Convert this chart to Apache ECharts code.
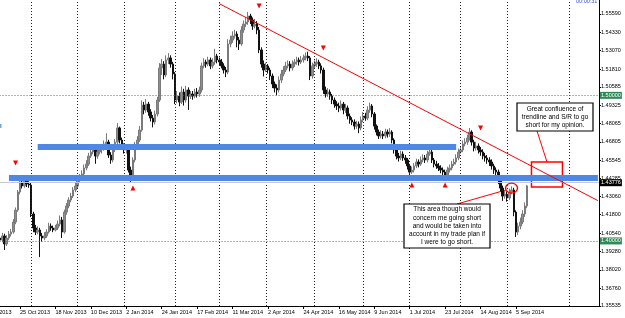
<!DOCTYPE html>
<html>
<head>
<meta charset="utf-8">
<script src="https://cdn.jsdelivr.net/npm/echarts@6.0.0/dist/echarts.min.js"></script>
<style>
html, body { margin: 0; padding: 0; background: #fff; }
#chart { width: 625px; height: 318px; }
</style>
</head>
<body>
<div id="chart"></div>
<script>
// daily bars, first one is bar -9 (bar 0 = 25 Oct 2013)
const barOpen = [
  1.4020, 1.4006, 1.4034, 1.3979, 1.4020, 1.4047, 1.4061, 1.4130, 1.4212,
  1.4336, 1.4405, 1.4377, 1.4412, 1.4391, 1.4384, 1.4185, 1.4089, 1.4061, 1.4075,
  1.4034, 1.4020, 1.4034, 1.4061, 1.4102, 1.4089, 1.4075, 1.4089, 1.4116, 1.4144,
  1.4061, 1.4198, 1.4240, 1.4281, 1.4308, 1.4350, 1.4377, 1.4418, 1.4439, 1.4460,
  1.4501, 1.4528, 1.4583, 1.4611, 1.4625, 1.4583, 1.4611, 1.4625, 1.4638, 1.4666,
  1.4679, 1.4590, 1.4556, 1.4625, 1.4679, 1.4776, 1.4693, 1.4652, 1.4625, 1.4638,
  1.4487, 1.4432, 1.4556, 1.4659, 1.4693, 1.4762, 1.4934, 1.4899, 1.4940, 1.4886,
  1.4844, 1.4817, 1.4872, 1.4968, 1.5188, 1.5215, 1.5140, 1.5243, 1.5257, 1.5215,
  1.5147, 1.4968, 1.4995, 1.4954, 1.5023, 1.4968, 1.5037, 1.4995, 1.5009, 1.4995,
  1.5023, 1.5009, 1.5037, 1.5202, 1.5229, 1.5215, 1.5243, 1.5202, 1.5229, 1.5270,
  1.5243, 1.5229, 1.5202, 1.5174, 1.5160, 1.5353, 1.5380, 1.5408, 1.5421, 1.5380,
  1.5353, 1.5449, 1.5490, 1.5504, 1.5545, 1.5518, 1.5476, 1.5490, 1.5449, 1.5312,
  1.5215, 1.5174, 1.5202, 1.5174, 1.5133, 1.5078, 1.5050, 1.5037, 1.5105, 1.5147,
  1.5174, 1.5202, 1.5215, 1.5188, 1.5215, 1.5229, 1.5243, 1.5229, 1.5243, 1.5257,
  1.5270, 1.5257, 1.5133, 1.5202, 1.5215, 1.5229, 1.5202, 1.5174, 1.5037, 1.5009,
  1.5023, 1.4995, 1.4968, 1.4940, 1.4927, 1.4913, 1.4940, 1.4899, 1.4913, 1.4858,
  1.4831, 1.4817, 1.4789, 1.4803, 1.4776, 1.4831, 1.4858, 1.4844, 1.4899, 1.4927,
  1.4872, 1.4789, 1.4748, 1.4721, 1.4734, 1.4721, 1.4748, 1.4734, 1.4748, 1.4693,
  1.4625, 1.4583, 1.4570, 1.4597, 1.4570, 1.4556, 1.4515, 1.4473, 1.4487, 1.4515,
  1.4542, 1.4528, 1.4556, 1.4570, 1.4556, 1.4597, 1.4611, 1.4556, 1.4528, 1.4515,
  1.4501, 1.4487, 1.4473, 1.4453, 1.4487, 1.4501, 1.4528, 1.4542, 1.4570, 1.4611,
  1.4625, 1.4666, 1.4679, 1.4707, 1.4748, 1.4679, 1.4638, 1.4652, 1.4625, 1.4611,
  1.4583, 1.4570, 1.4556, 1.4542, 1.4515, 1.4487, 1.4473, 1.4418, 1.4363, 1.4308,
  1.4322, 1.4295, 1.4336, 1.4350, 1.4198, 1.4061, 1.4102, 1.4130, 1.4185, 1.4240
]
const barHigh = [
  1.4045, 1.4055, 1.4050, 1.4040, 1.4068, 1.4082, 1.4150, 1.4230, 1.4350,
  1.4425, 1.4430, 1.4432, 1.4425, 1.4410, 1.4398, 1.4200, 1.4110, 1.4100, 1.4090,
  1.4055, 1.4060, 1.4080, 1.4125, 1.4120, 1.4105, 1.4110, 1.4140, 1.4175, 1.4165,
  1.4215, 1.4260, 1.4300, 1.4330, 1.4370, 1.4400, 1.4440, 1.4460, 1.4485, 1.4525,
  1.4555, 1.4605, 1.4630, 1.4645, 1.4640, 1.4630, 1.4650, 1.4660, 1.4690, 1.4740,
  1.4695, 1.4610, 1.4645, 1.4700, 1.4810, 1.4785, 1.4710, 1.4670, 1.4660, 1.4650,
  1.4510, 1.4575, 1.4680, 1.4720, 1.4790, 1.4965, 1.4955, 1.4975, 1.4955, 1.4905,
  1.4865, 1.4895, 1.4990, 1.5222, 1.5250, 1.5235, 1.5275, 1.5290, 1.5275, 1.5230,
  1.5160, 1.5030, 1.5020, 1.5060, 1.5045, 1.5065, 1.5055, 1.5030, 1.5030, 1.5045,
  1.5050, 1.5060, 1.5225, 1.5255, 1.5245, 1.5265, 1.5260, 1.5255, 1.5320, 1.5285,
  1.5260, 1.5250, 1.5220, 1.5195, 1.5385, 1.5410, 1.5440, 1.5450, 1.5440, 1.5400,
  1.5475, 1.5515, 1.5535, 1.5573, 1.5560, 1.5535, 1.5525, 1.5510, 1.5470, 1.5330,
  1.5240, 1.5225, 1.5215, 1.5190, 1.5150, 1.5095, 1.5075, 1.5130, 1.5175, 1.5200,
  1.5230, 1.5240, 1.5235, 1.5240, 1.5250, 1.5265, 1.5260, 1.5270, 1.5280, 1.5295,
  1.5300, 1.5270, 1.5225, 1.5240, 1.5255, 1.5245, 1.5220, 1.5190, 1.5060, 1.5050,
  1.5040, 1.5010, 1.4985, 1.4960, 1.4950, 1.4965, 1.4955, 1.4940, 1.4930, 1.4875,
  1.4850, 1.4835, 1.4825, 1.4820, 1.4855, 1.4885, 1.4880, 1.4925, 1.4950, 1.4940,
  1.4885, 1.4800, 1.4765, 1.4760, 1.4755, 1.4770, 1.4765, 1.4775, 1.4760, 1.4705,
  1.4640, 1.4605, 1.4620, 1.4615, 1.4590, 1.4570, 1.4530, 1.4510, 1.4535, 1.4565,
  1.4560, 1.4580, 1.4595, 1.4590, 1.4620, 1.4635, 1.4625, 1.4570, 1.4550, 1.4535,
  1.4520, 1.4505, 1.4490, 1.4510, 1.4525, 1.4550, 1.4565, 1.4595, 1.4635, 1.4650,
  1.4690, 1.4705, 1.4730, 1.4776, 1.4760, 1.4695, 1.4680, 1.4670, 1.4645, 1.4630,
  1.4605, 1.4590, 1.4575, 1.4560, 1.4530, 1.4505, 1.4490, 1.4435, 1.4380, 1.4345,
  1.4340, 1.4360, 1.4375, 1.4365, 1.4210, 1.4125, 1.4160, 1.4210, 1.4265, 1.4385
]
const barLow = [
  1.3985, 1.3990, 1.3938, 1.3965, 1.4005, 1.4030, 1.4050, 1.4115, 1.4200,
  1.4320, 1.4360, 1.4365, 1.4370, 1.4365, 1.4164, 1.4060, 1.4040, 1.4045, 1.3889,
  1.3995, 1.4005, 1.4020, 1.4050, 1.4070, 1.4060, 1.4065, 1.4075, 1.4100, 1.4020,
  1.4050, 1.4180, 1.4225, 1.4265, 1.4295, 1.4335, 1.4360, 1.4400, 1.4425, 1.4445,
  1.4485, 1.4515, 1.4570, 1.4595, 1.4530, 1.4565, 1.4595, 1.4600, 1.4620, 1.4650,
  1.4570, 1.4530, 1.4540, 1.4610, 1.4665, 1.4670, 1.4630, 1.4600, 1.4600, 1.4470,
  1.4405, 1.4420, 1.4540, 1.4640, 1.4680, 1.4750, 1.4870, 1.4880, 1.4860, 1.4820,
  1.4780, 1.4800, 1.4855, 1.4955, 1.5140, 1.5110, 1.5125, 1.5215, 1.5190, 1.5110,
  1.4940, 1.4945, 1.4925, 1.4940, 1.4930, 1.4950, 1.4900, 1.4975, 1.4970, 1.4980,
  1.4985, 1.4990, 1.5020, 1.5185, 1.5190, 1.5200, 1.5180, 1.5185, 1.5210, 1.5220,
  1.5205, 1.5185, 1.5150, 1.5125, 1.5145, 1.5330, 1.5360, 1.5390, 1.5330, 1.5312,
  1.5340, 1.5430, 1.5470, 1.5485, 1.5490, 1.5450, 1.5460, 1.5420, 1.5290, 1.5190,
  1.5130, 1.5160, 1.5150, 1.5105, 1.5050, 1.5020, 1.5000, 1.5020, 1.5085, 1.5130,
  1.5160, 1.5185, 1.5165, 1.5170, 1.5195, 1.5210, 1.5205, 1.5215, 1.5225, 1.5240,
  1.5235, 1.5105, 1.5115, 1.5185, 1.5195, 1.5180, 1.5150, 1.5010, 1.4985, 1.4990,
  1.4970, 1.4940, 1.4915, 1.4900, 1.4885, 1.4895, 1.4870, 1.4880, 1.4835, 1.4805,
  1.4795, 1.4765, 1.4770, 1.4740, 1.4760, 1.4815, 1.4825, 1.4830, 1.4880, 1.4850,
  1.4765, 1.4725, 1.4700, 1.4705, 1.4700, 1.4705, 1.4710, 1.4715, 1.4670, 1.4600,
  1.4560, 1.4545, 1.4555, 1.4550, 1.4530, 1.4490, 1.4453, 1.4460, 1.4470, 1.4500,
  1.4505, 1.4515, 1.4540, 1.4535, 1.4540, 1.4585, 1.4535, 1.4505, 1.4495, 1.4480,
  1.4465, 1.4450, 1.4432, 1.4440, 1.4470, 1.4485, 1.4515, 1.4525, 1.4555, 1.4600,
  1.4610, 1.4650, 1.4660, 1.4690, 1.4655, 1.4615, 1.4620, 1.4600, 1.4585, 1.4560,
  1.4545, 1.4530, 1.4515, 1.4490, 1.4460, 1.4445, 1.4390, 1.4340, 1.4275, 1.4290,
  1.4270, 1.4280, 1.4320, 1.4170, 1.4027, 1.4040, 1.4080, 1.4115, 1.4165, 1.4225
]
const barClose = [
  1.4006, 1.4034, 1.3979, 1.4020, 1.4047, 1.4061, 1.4130, 1.4212, 1.4336,
  1.4405, 1.4377, 1.4412, 1.4391, 1.4384, 1.4185, 1.4089, 1.4061, 1.4075, 1.4034,
  1.4020, 1.4034, 1.4061, 1.4102, 1.4089, 1.4075, 1.4089, 1.4116, 1.4144, 1.4061,
  1.4198, 1.4240, 1.4281, 1.4308, 1.4350, 1.4377, 1.4418, 1.4439, 1.4460, 1.4501,
  1.4528, 1.4583, 1.4611, 1.4625, 1.4583, 1.4611, 1.4625, 1.4638, 1.4666, 1.4679,
  1.4590, 1.4556, 1.4625, 1.4679, 1.4776, 1.4693, 1.4652, 1.4625, 1.4638, 1.4487,
  1.4432, 1.4556, 1.4659, 1.4693, 1.4762, 1.4934, 1.4899, 1.4940, 1.4886, 1.4844,
  1.4817, 1.4872, 1.4968, 1.5188, 1.5215, 1.5140, 1.5243, 1.5257, 1.5215, 1.5147,
  1.4968, 1.4995, 1.4954, 1.5023, 1.4968, 1.5037, 1.4995, 1.5009, 1.4995, 1.5023,
  1.5009, 1.5037, 1.5202, 1.5229, 1.5215, 1.5243, 1.5202, 1.5229, 1.5270, 1.5243,
  1.5229, 1.5202, 1.5174, 1.5160, 1.5353, 1.5380, 1.5408, 1.5421, 1.5380, 1.5353,
  1.5449, 1.5490, 1.5504, 1.5545, 1.5518, 1.5476, 1.5490, 1.5449, 1.5312, 1.5215,
  1.5174, 1.5202, 1.5174, 1.5133, 1.5078, 1.5050, 1.5037, 1.5105, 1.5147, 1.5174,
  1.5202, 1.5215, 1.5188, 1.5215, 1.5229, 1.5243, 1.5229, 1.5243, 1.5257, 1.5270,
  1.5257, 1.5133, 1.5202, 1.5215, 1.5229, 1.5202, 1.5174, 1.5037, 1.5009, 1.5023,
  1.4995, 1.4968, 1.4940, 1.4927, 1.4913, 1.4940, 1.4899, 1.4913, 1.4858, 1.4831,
  1.4817, 1.4789, 1.4803, 1.4776, 1.4831, 1.4858, 1.4844, 1.4899, 1.4927, 1.4872,
  1.4789, 1.4748, 1.4721, 1.4734, 1.4721, 1.4748, 1.4734, 1.4748, 1.4693, 1.4625,
  1.4583, 1.4570, 1.4597, 1.4570, 1.4556, 1.4515, 1.4473, 1.4487, 1.4515, 1.4542,
  1.4528, 1.4556, 1.4570, 1.4556, 1.4597, 1.4611, 1.4556, 1.4528, 1.4515, 1.4501,
  1.4487, 1.4473, 1.4453, 1.4487, 1.4501, 1.4528, 1.4542, 1.4570, 1.4611, 1.4625,
  1.4666, 1.4679, 1.4707, 1.4748, 1.4679, 1.4638, 1.4652, 1.4625, 1.4611, 1.4583,
  1.4570, 1.4556, 1.4542, 1.4515, 1.4487, 1.4473, 1.4418, 1.4363, 1.4308, 1.4322,
  1.4295, 1.4336, 1.4350, 1.4198, 1.4061, 1.4102, 1.4130, 1.4185, 1.4240, 1.4378
]

const dateLabels = ['3 Oct 2013', '25 Oct 2013', '18 Nov 2013', '10 Dec 2013', '2 Jan 2014',
  '24 Jan 2014', '17 Feb 2014', '11 Mar 2014', '2 Apr 2014', '24 Apr 2014', '16 May 2014',
  '9 Jun 2014', '1 Jul 2014', '23 Jul 2014', '14 Aug 2014', '5 Sep 2014']
const labelBars = [-16, 0, 16, 32, 48, 64, 80, 96, 112, 128, 144, 160, 176, 192, 208, 224]
const monthBars = [5, 26, 47, 70, 90, 111, 133, 155, 176, 199, 220, 248]
const priceTicks = [1.55590, 1.54330, 1.53070, 1.51810, 1.50585, 1.49325, 1.48065, 1.46805,
  1.45545, 1.44285, 1.43060, 1.41800, 1.40540, 1.39280, 1.38020, 1.36760, 1.35535]

const bidPrice = 1.43776
const roundLevels = [1.50000, 1.40000]
const upperBand = { from: 8, to: 197, price: 1.4649 }
const lowerBand = { from: -5, to: 261, price: 1.4436 }
const trendLine = [[90, 1.5630], [261, 1.4277]]
const zoneBox = [[231, 1.4542], [245, 1.4370]]
const circleAt = [222, 1.4363]
const arrowsTop = [[-2, 1.4535], [108, 1.5614], [137, 1.5325], [208, 1.4776]]
const arrowsBottom = [[51, 1.4364], [177, 1.4384], [192, 1.4384]]

const firstBar = -9
const lead = 25        // empty slots before bar 0
const slotCount = 287
const font = '"Liberation Sans", Arial, sans-serif'

const slot = b => b + lead
const slots = Array.from({ length: slotCount }, (_, k) => String(k))
const candles = barOpen.map((o, j) => [slot(firstBar + j), o, barClose[j], barLow[j], barHigh[j]])
const labelAt = {}
labelBars.forEach((b, n) => { labelAt[slot(b)] = dateLabels[n] })

const chart = echarts.init(document.getElementById('chart'), null, { renderer: 'canvas' })

const dotted = { color: '#222', width: 1, type: [1, 2] }
const greenDot = { color: '#2e8b57', width: 1, type: [1, 2] }

const option = {
  animation: false,
  backgroundColor: '#fff',
  grid: { left: -36.46, right: 26, top: 0, bottom: 12, outerBoundsMode: 'none' },
  xAxis: {
    type: 'category',
    data: slots,
    boundaryGap: true,
    axisLine: { lineStyle: { color: '#000', width: 1 } },
    axisTick: {
      show: true, length: 3, alignWithLabel: true,
      interval: idx => labelAt[idx] !== undefined,
      lineStyle: { color: '#000' }
    },
    axisLabel: {
      interval: idx => labelAt[idx] !== undefined,
      formatter: (v, idx) => labelAt[idx] || '',
      align: 'left', fontSize: 5.5, color: '#000', margin: 3, fontFamily: font
    },
    splitLine: { show: false }
  },
  yAxis: {
    type: 'value',
    position: 'right',
    min: 1.3553,
    max: 1.5655,
    axisLine: { show: true, lineStyle: { color: '#000' } },
    axisTick: { show: true, length: 2, customValues: priceTicks, lineStyle: { color: '#000' } },
    axisLabel: {
      customValues: priceTicks,
      formatter: v => v.toFixed(5),
      fontSize: 5.5, color: '#000', margin: 2, fontFamily: font
    },
    splitLine: { show: false }
  },
  series: [
    {
      // grid lines and price levels behind the bars
      type: 'line', data: [], z: 1, silent: true,
      markLine: {
        silent: true, symbol: ['none', 'none'], animation: false,
        label: { show: false },
        data: [
          ...monthBars.map(b => ({ xAxis: slot(b), lineStyle: dotted })),
          ...roundLevels.map(p => ({
            yAxis: p, lineStyle: greenDot,
            label: {
              show: true, position: 'end', distance: 1, formatter: p.toFixed(5),
              color: '#fff', backgroundColor: '#2e8b57', fontSize: 5.5, fontFamily: font,
              padding: [1, 1, 0, 1]
            }
          })),
          {
            yAxis: bidPrice, lineStyle: { color: '#c8c8c8', width: 1, type: 'solid' },
            label: {
              show: true, position: 'end', distance: 1, formatter: bidPrice.toFixed(5),
              color: '#fff', backgroundColor: '#000', fontSize: 5.5, fontFamily: font,
              padding: [1, 1, 0, 1]
            }
          }
        ]
      }
    },
    {
      type: 'candlestick',
      z: 2,
      barWidth: 2,
      encode: { x: 0, y: [1, 2, 3, 4] },
      data: candles,
      itemStyle: {
        color: '#8e8e8e', borderColor: '#7a7a7a',
        color0: '#111', borderColor0: '#111', borderWidth: 1
      }
    },
    {
      // drawn objects on top
      type: 'line', data: [], z: 3, silent: true,
      markLine: {
        silent: true, symbol: ['none', 'none'], animation: false,
        label: { show: false },
        data: [
          [{ coord: [slot(upperBand.from), upperBand.price] }, { coord: [slot(upperBand.to), upperBand.price] }],
          [{ coord: [slot(lowerBand.from), lowerBand.price] }, { coord: [slot(lowerBand.to), lowerBand.price] }],
          [{ coord: [slot(trendLine[0][0]), trendLine[0][1]], lineStyle: { color: '#ff0000', width: 1, type: 'solid' } },
           { coord: [slot(trendLine[1][0]), trendLine[1][1]] }]
        ].map((d, n) => n < 2
          ? [{ ...d[0], lineStyle: { color: '#4f87e6', width: 6, type: 'solid', opacity: 1 } }, d[1]]
          : d)
      },
      markArea: {
        silent: true,
        itemStyle: { color: 'rgba(0,0,0,0)', borderColor: '#ff0000', borderWidth: 1.5 },
        data: [[{ coord: [slot(zoneBox[0][0]), zoneBox[0][1]] }, { coord: [slot(zoneBox[1][0]), zoneBox[1][1]] }]]
      },
      markPoint: {
        silent: true, animation: false,
        label: { show: false },
        data: [
          {
            coord: [slot(circleAt[0]), circleAt[1]], symbol: 'circle', symbolSize: [12, 10],
            itemStyle: { color: 'rgba(0,0,0,0)', borderColor: '#ff0000', borderWidth: 1.3 }
          },
          ...arrowsTop.map(a => ({
            coord: [slot(a[0]), a[1]], symbol: 'triangle', symbolSize: 5, symbolRotate: 180,
            itemStyle: { color: '#ff0000' }
          })),
          ...arrowsBottom.map(a => ({
            coord: [slot(a[0]), a[1]], symbol: 'triangle', symbolSize: 5,
            itemStyle: { color: '#ff0000' }
          }))
        ]
      }
    }
  ],
  graphic: [
    { type: 'text', left: 576, top: -2, style: { text: '00:00:31', fill: '#3a4fc8', font: '5.5px ' + font } },
    { type: 'rect', shape: { x: 0, y: 124, width: 1.5, height: 4 }, style: { fill: '#6fa8dc' } },
    { type: 'line', shape: { x1: 537, y1: 131, x2: 547, y2: 162 }, style: { stroke: '#ff0000', lineWidth: 1 } },
    { type: 'line', shape: { x1: 457, y1: 204, x2: 506, y2: 190 }, style: { stroke: '#ff0000', lineWidth: 1 } },
    {
      type: 'rect', shape: { x: 517, y: 103, width: 76, height: 28 },
      style: { fill: '#fff', stroke: '#000', lineWidth: 1.2 }, z: 10
    },
    {
      type: 'text', z: 11, x: 555, y: 117,
      style: {
        text: 'Great confluence of\ntrendline and S/R to go\nshort for my opinion.',
        fill: '#000', font: '6.5px ' + font, align: 'center', verticalAlign: 'middle', lineHeight: 8
      }
    },
    {
      type: 'rect', shape: { x: 404, y: 204, width: 86, height: 44 },
      style: { fill: '#fff', stroke: '#000', lineWidth: 1.2 }, z: 10
    },
    {
      type: 'text', z: 11, x: 447, y: 226,
      style: {
        text: 'This area though would\nconcern me going short\nand would be taken into\naccount in my trade plan if\nI were to go short.',
        fill: '#000', font: '6.5px ' + font, align: 'center', verticalAlign: 'middle', lineHeight: 8.2
      }
    }
  ]
}

chart.setOption(option)
</script>
</body>
</html>
